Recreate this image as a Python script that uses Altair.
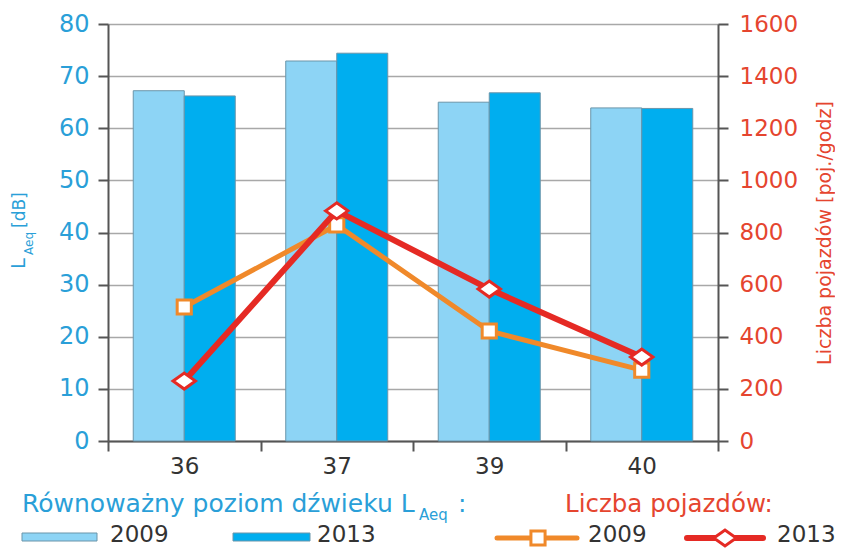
import altair as alt
import pandas as pd

categories = ["36", "37", "39", "40"]
years = ["2009", "2013"]
laeq_2009 = [67.2, 72.9, 65.0, 63.9]
laeq_2013 = [66.2, 74.4, 66.8, 63.8]
veh_2009 = [514, 829, 422, 272]
veh_2013 = [230, 883, 583, 322]

bar_colors = ["#8dd4f5", "#00aeef"]
orange = "#f0892a"
red = "#e52a24"
blue_txt = "#2a9fd8"
red_txt = "#e5452f"
gray_txt = "#333333"
axis_col = "#555555"
FONT = "DejaVu Sans"

bars_df = pd.DataFrame({
    "cat": categories * 2,
    "year": [years[0]] * 4 + [years[1]] * 4,
    "laeq": laeq_2009 + laeq_2013,
})
l09 = pd.DataFrame({"cat": categories, "veh": veh_2009})
l13 = pd.DataFrame({"cat": categories, "veh": veh_2013})

W, H = 610, 417

xenc = alt.X(
    "cat:N", sort=categories,
    scale=alt.Scale(paddingInner=0, paddingOuter=0),
    axis=alt.Axis(title=None, labelAngle=0, labelFontSize=23, labelColor=gray_txt,
                  labelFont=FONT, tickBand="extent", tickSize=10, tickColor=axis_col,
                  tickWidth=2, domainColor=axis_col, domainWidth=2, labelPadding=4,
                  grid=False),
)

bars = alt.Chart(bars_df).mark_bar(stroke="#6b95aa", strokeWidth=1).encode(
    x=xenc,
    xOffset=alt.XOffset("year:N", sort=years,
                        scale=alt.Scale(paddingInner=0, paddingOuter=0.495)),
    y=alt.Y("laeq:Q", scale=alt.Scale(domain=[0, 80]),
            axis=alt.Axis(values=list(range(0, 81, 10)), title=None, labelColor=blue_txt,
                          labelFontSize=24, labelFont=FONT, tickSize=10, tickColor=axis_col,
                          tickWidth=2, domainColor=axis_col, domainWidth=2, labelPadding=9,
                          grid=True, gridColor="#a8a8a8", gridWidth=1.5)),
    fill=alt.Fill("year:N", scale=alt.Scale(domain=years, range=bar_colors), legend=None),
)

yr = alt.Y("veh:Q", scale=alt.Scale(domain=[0, 1600]),
           axis=alt.Axis(orient="right", values=list(range(0, 1601, 200)), format="d",
                         title="Liczba pojazdów [poj./godz]", titleAngle=270,
                         titleColor=red_txt, titleFontSize=19, titleFont=FONT,
                         titleFontWeight="normal", titlePadding=37,
                         labelColor=red_txt, labelFontSize=23, labelFont=FONT,
                         tickSize=10, tickColor=axis_col, tickWidth=2,
                         domainColor=axis_col, domainWidth=2, labelPadding=11, grid=False))

diamond = "M-1.4,0L0,-1L1.4,0L0,1Z"

line09 = alt.Chart(l09).mark_line(color=orange, strokeWidth=5).encode(
    x=alt.X("cat:N", sort=categories), y=yr)
pts09 = alt.Chart(l09).mark_point(shape="square", filled=True, fill="white", stroke=orange,
                                  strokeWidth=3, size=200, opacity=1).encode(
    x=alt.X("cat:N", sort=categories), y=alt.Y("veh:Q"))
line13 = alt.Chart(l13).mark_line(color=red, strokeWidth=6).encode(
    x=alt.X("cat:N", sort=categories), y=alt.Y("veh:Q"))
pts13 = alt.Chart(l13).mark_point(shape=diamond, filled=True, fill="white", stroke=red,
                                  strokeWidth=3, size=256, opacity=1).encode(
    x=alt.X("cat:N", sort=categories), y=alt.Y("veh:Q"))

lines = alt.layer(line09, pts09, line13, pts13)

# ---- annotations: left axis title with subscript, custom legend ----
one = pd.DataFrame({"v": [0]})

def txt(s, x, y, size, color, angle=0, align="left"):
    return alt.Chart(one).mark_text(text=s, font=FONT, fontSize=size, color=color,
                                    angle=angle, align=align, baseline="alphabetic").encode(
        x=alt.value(x), y=alt.value(y))

def rect(x1, x2, y1, y2, color):
    return alt.Chart(one).mark_rect(fill=color, stroke="#6b95aa", strokeWidth=1).encode(
        x=alt.value(x1), x2=alt.value(x2), y=alt.value(y1), y2=alt.value(y2))

def seg(x1, x2, y, color, w):
    return alt.Chart(one).mark_rule(color=color, strokeWidth=w, strokeCap="round").encode(
        x=alt.value(x1), x2=alt.value(x2), y=alt.value(y))

def sym(x, y, shape, color, size):
    return alt.Chart(one).mark_point(shape=shape, filled=True, fill="white", stroke=color,
                                     strokeWidth=3, size=size, opacity=1).encode(
        x=alt.value(x), y=alt.value(y))

LY = 518  # legend row text baseline
annot = alt.layer(
    txt("L", -83, 245, 19.5, blue_txt, angle=270),
    txt("Aeq", -75, 231, 12, blue_txt, angle=270),
    txt("[dB]", -83, 204, 17, blue_txt, angle=270),
    txt("Równoważny poziom dźwieku L", -86, 488, 25, blue_txt),
    txt("Aeq", 311, 496, 15, blue_txt),
    txt(":", 350, 488, 25, blue_txt),
    rect(-86, -11, 509, 517, bar_colors[0]),
    txt("2009", 2, LY, 23, gray_txt),
    rect(125, 202, 509, 517, bar_colors[1]),
    txt("2013", 209, LY, 23, gray_txt),
    txt("Liczba pojazdów:", 457, 488, 24.5, red_txt),
    seg(389, 469, 514, orange, 5),
    sym(430, 514, "square", orange, 200),
    txt("2009", 480, LY, 23, gray_txt),
    seg(579, 655, 514, red, 6),
    sym(617, 514, diamond, red, 256),
    txt("2013", 669, LY, 23, gray_txt),
)

chart = alt.layer(bars, lines, annot).resolve_scale(y="independent").properties(
    width=W, height=H,
    autosize=alt.AutoSizeParams(type="none"),
    padding={"left": 100, "top": 16, "right": 117, "bottom": 107},
).configure_view(stroke=axis_col, strokeWidth=2).configure(background="white")

chart.save("out.html", embed_options={"renderer": "svg", "actions": False})
